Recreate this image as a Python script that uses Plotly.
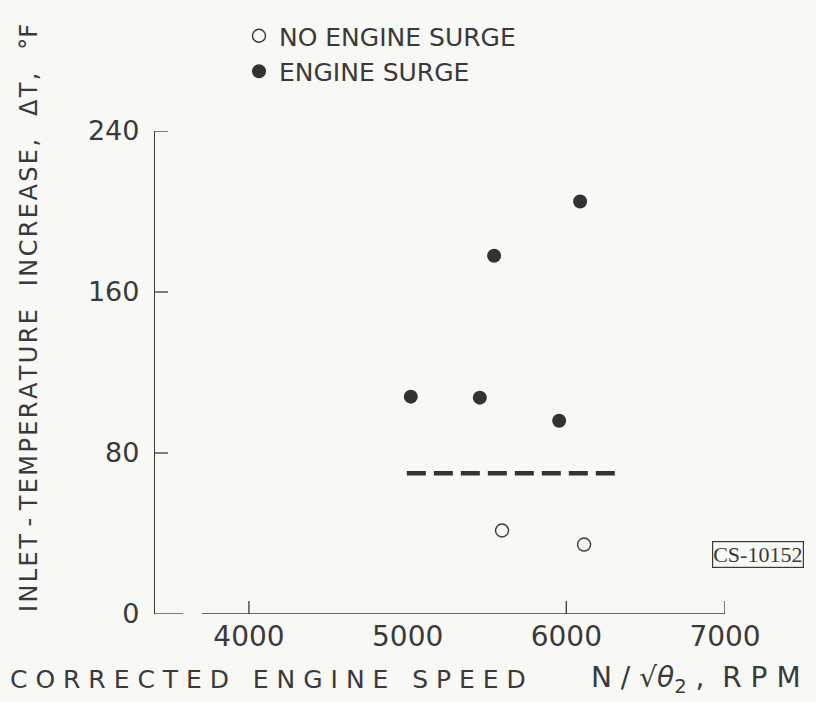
import plotly.graph_objects as go

# Data
surge_speed = [5020, 5455, 5545, 5955, 6087]
surge_dt = [108, 107.5, 178, 96, 205]
no_surge_speed = [5595, 6112]
no_surge_dt = [41.5, 34.5]
limit_speed = [4995, 6332]
limit_dt = [70, 70]

x_ticks = [4000, 5000, 6000, 7000]
x_tick_marks = [4000, 6000, 7000]
y_ticks = [0, 80, 160, 240]
y_tick_marks = [80, 160, 240]

ink = "#3a3a3a"
bg = "#f8f8f5"
font_family = "DejaVu Sans"

L, R, T, B = 155, 91, 131, 88
PW, PH = 816 - L - R, 702 - T - B

fig = go.Figure()
fig.add_trace(go.Scatter(
    x=no_surge_speed, y=no_surge_dt, mode="markers", name="NO ENGINE SURGE",
    marker=dict(symbol="circle-open", size=13, color=ink, line=dict(width=1.4, color=ink)),
))
fig.add_trace(go.Scatter(
    x=surge_speed, y=surge_dt, mode="markers", name="ENGINE SURGE",
    marker=dict(symbol="circle", size=14, color="#333333"),
))
fig.add_trace(go.Scatter(
    x=limit_speed, y=limit_dt, mode="lines", showlegend=False,
    line=dict(color="#333333", width=4.5, dash="19px,8px"),
))

shapes = []
# x-axis baseline with a small gap near the origin
shapes.append(dict(type="line", xref="paper", yref="y", x0=0, x1=(183 - L) / PW, y0=0, y1=0,
                   line=dict(color=ink, width=1.3)))
shapes.append(dict(type="line", xref="paper", yref="y", x0=(202 - L) / PW, x1=1, y0=0, y1=0,
                   line=dict(color=ink, width=1.3)))
for t in x_tick_marks:
    shapes.append(dict(type="line", xref="x", yref="paper", x0=t, x1=t, y0=0, y1=13 / PH,
                       line=dict(color=ink, width=1.3)))
for t in y_tick_marks:
    shapes.append(dict(type="line", xref="paper", yref="y", x0=0, x1=13 / PW, y0=t, y1=t,
                       line=dict(color=ink, width=1.3)))

fig.update_layout(
    width=816, height=702,
    margin=dict(l=L, r=R, t=T, b=B),
    paper_bgcolor=bg, plot_bgcolor=bg,
    font=dict(family=font_family, color=ink, size=25),
    showlegend=True,
    legend=dict(x=(239 - L) / PW, y=1 + (T - 13) / PH, xanchor="left", yanchor="top",
                bgcolor="rgba(0,0,0,0)",
                font=dict(size=25, family=font_family, color=ink), itemwidth=30,
                tracegroupgap=0),
    xaxis=dict(range=[3408, 7000], tickvals=x_ticks, ticktext=[str(v) for v in x_ticks],
               showgrid=False, zeroline=False, showline=False, ticks="",
               tickfont=dict(size=28), ticklabelstandoff=3),
    yaxis=dict(range=[0, 240], tickvals=y_ticks, ticktext=[str(v) for v in y_ticks],
               showgrid=False, zeroline=False, showline=True, linecolor=ink, linewidth=1.3,
               ticks="", tickfont=dict(size=27), ticklabelstandoff=9),
    shapes=shapes,
)

hs = "\u200a"
ytitle = (hs.join("INLET") + " - " + hs.join("TEMPERATURE") + "   " + hs.join("INCREASE,")
          + "   " + hs.join("ΔT,") + "   °F")
fig.add_annotation(
    text=ytitle,
    xref="paper", yref="paper", x=(29 - L) / PW, y=(702 - B - 318) / PH,
    textangle=-90, showarrow=False, font=dict(size=24, family=font_family, color=ink),
    xanchor="center", yanchor="middle",
)
fig.add_annotation(
    text="C O R R E C T E D   E N G I N E   S P E E D",
    xref="paper", yref="paper", x=(8 - L) / PW, y=-(679 - (702 - B)) / PH,
    showarrow=False, font=dict(size=25, family=font_family, color=ink),
    xanchor="left", yanchor="middle",
)
fig.add_annotation(
    text="N / √<i>θ</i><sub>2</sub> ,  R P M",
    xref="paper", yref="paper", x=(589 - L) / PW, y=-(679 - (702 - B)) / PH,
    showarrow=False, font=dict(size=28, family=font_family, color=ink),
    xanchor="left", yanchor="middle",
)
fig.add_annotation(
    text="CS-10152", xref="paper", yref="paper", x=(758 - L) / PW, y=((702 - B) - 554) / PH,
    showarrow=False, font=dict(size=22, family="Liberation Serif", color=ink),
    bordercolor=ink, borderwidth=1.2, borderpad=0, xanchor="center", yanchor="middle",
)

fig.write_html(
    "out.html",
    config={"displayModeBar": False},
    post_script="document.body.style.margin='0';document.body.style.background='%s';" % bg,
)
